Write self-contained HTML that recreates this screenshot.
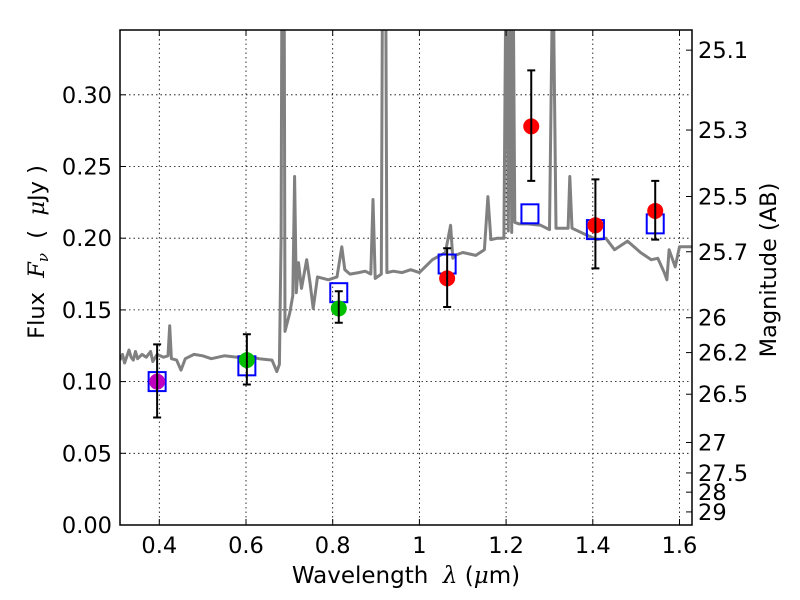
<!DOCTYPE html>
<html><head><meta charset="utf-8"><style>
body{margin:0;background:#fff;}
svg{display:block;font-family:"DejaVu Sans","Liberation Sans",sans-serif;}
text{white-space:pre;}
</style></head><body>
<svg id="chart" width="800" height="600" viewBox="0 0 800 600" xmlns="http://www.w3.org/2000/svg" xml:space="preserve">
<defs><clipPath id="clip"><rect x="120" y="30" width="572" height="495"/></clipPath></defs>
<rect x="0" y="0" width="800" height="600" fill="#fff"/>
<g id="grid"></g>
<g id="spec" clip-path="url(#clip)"></g>
<g id="marks" clip-path="url(#clip)"></g>
<rect x="120" y="30" width="572" height="495" fill="none" stroke="#000" stroke-width="1.5"/>
<g id="axes"></g>
<text x="406" y="583" font-size="23" text-anchor="middle">Wavelength  <tspan font-style="italic" font-family="DejaVu Serif,serif">λ</tspan> (<tspan font-style="italic" font-family="DejaVu Serif,serif">μ</tspan>m)</text>
<text transform="translate(44,252) rotate(-90)" font-size="22.5" text-anchor="middle">Flux  <tspan font-style="italic" font-family="DejaVu Serif,serif">F<tspan font-size="15" dy="4">ν</tspan></tspan><tspan dy="-4">  (  </tspan><tspan font-style="italic" font-family="DejaVu Serif,serif">μ</tspan>Jy )</text>
<text transform="translate(776,270) rotate(-90)" font-size="22.5" text-anchor="middle">Magnitude (AB)</text>
</svg>
<script>
const xTicks=[0.4,0.6,0.8,1.0,1.2,1.4,1.6];
const xTickLabels=["0.4","0.6","0.8","1","1.2","1.4","1.6"];
const yTicks=[0,0.05,0.10,0.15,0.20,0.25,0.30];
const yTickLabels=["0.00","0.05","0.10","0.15","0.20","0.25","0.30"];
const magTicks=[25.1,25.3,25.5,25.7,26,26.2,26.5,27,27.5,28,29];
const specWave=[0.309,0.315,0.32,0.33,0.335,0.34,0.345,0.35,0.36,0.37,0.38,0.385,0.395,0.41,0.42,0.424,0.428,0.44,0.45,0.46,0.48,0.50,0.52,0.55,0.58,0.60,0.63,0.66,0.671,0.677,0.681,0.683,0.688,0.690,0.701,0.708,0.712,0.716,0.721,0.728,0.740,0.748,0.755,0.765,0.79,0.81,0.821,0.828,0.84,0.86,0.875,0.888,0.893,0.898,0.912,0.915,0.922,0.925,0.94,0.96,0.98,1.0,1.03,1.06,1.072,1.077,1.082,1.10,1.13,1.15,1.158,1.165,1.18,1.195,1.20,1.205,1.21,1.213,1.216,1.22,1.23,1.25,1.28,1.30,1.308,1.315,1.33,1.343,1.347,1.352,1.38,1.41,1.43,1.45,1.48,1.51,1.535,1.55,1.565,1.571,1.576,1.59,1.60,1.63];
const specFlux=[0.115,0.119,0.113,0.122,0.117,0.115,0.121,0.116,0.119,0.117,0.121,0.114,0.119,0.117,0.118,0.139,0.116,0.115,0.108,0.116,0.119,0.118,0.116,0.118,0.117,0.118,0.116,0.115,0.107,0.112,0.20,0.40,0.40,0.135,0.148,0.16,0.243,0.162,0.183,0.165,0.185,0.168,0.151,0.173,0.171,0.173,0.194,0.178,0.175,0.176,0.177,0.175,0.227,0.172,0.175,0.40,0.40,0.176,0.177,0.176,0.178,0.176,0.185,0.190,0.209,0.186,0.188,0.190,0.188,0.192,0.229,0.199,0.200,0.200,0.40,0.205,0.40,0.204,0.40,0.211,0.210,0.210,0.209,0.206,0.40,0.207,0.207,0.207,0.243,0.207,0.203,0.199,0.200,0.192,0.198,0.190,0.185,0.186,0.176,0.171,0.192,0.180,0.194,0.194];
const photWave=[0.395,0.602,0.814,1.064,1.258,1.406,1.544];
const photFlux=[0.100,0.115,0.151,0.172,0.278,0.209,0.219];
const photLow=[0.075,0.098,0.141,0.152,0.240,0.179,0.199];
const photHigh=[0.126,0.133,0.163,0.193,0.317,0.241,0.240];
const photColors=["#bf00bf","#00bf00","#00bf00","#ff0000","#ff0000","#ff0000","#ff0000"];
const modelWave=[0.395,0.602,0.814,1.064,1.255,1.406,1.544];
const modelFlux=[0.100,0.111,0.162,0.182,0.217,0.206,0.210];

const X=w=>159.3+(w-0.4)*433.5;
const Y=v=>525-v*1434;
const NS="http://www.w3.org/2000/svg";
function mk(tag,attrs,parent){const e=document.createElementNS(NS,tag);for(const k in attrs)e.setAttribute(k,attrs[k]);parent.appendChild(e);return e;}
const grid=document.getElementById('grid'),axes=document.getElementById('axes'),spec=document.getElementById('spec'),marks=document.getElementById('marks');
xTicks.forEach((t,i)=>{const x=X(t);
 const g=mk('line',{x1:x,x2:x,y1:30,y2:525,stroke:'#000','stroke-width':0.8,'stroke-dasharray':'1.5,3'},grid);
 
 mk('line',{x1:x,x2:x,y1:525,y2:519,stroke:'#000'},axes);
 mk('line',{x1:x,x2:x,y1:30,y2:36,stroke:'#000'},axes);
 const tx=mk('text',{x:x,y:553,'font-size':22.5,'text-anchor':'middle'},axes);tx.textContent=xTickLabels[i];
 });
yTicks.forEach((t,i)=>{const y=Y(t);
 const g=mk('line',{x1:120,x2:692,y1:y,y2:y,stroke:'#000','stroke-width':0.8,'stroke-dasharray':'1.5,3'},grid);
 
 mk('line',{x1:120,x2:126,y1:y,y2:y,stroke:'#000'},axes);
 const tx=mk('text',{x:112,y:y+8,'font-size':22.5,'text-anchor':'end'},axes);tx.textContent=yTickLabels[i];
 });
magTicks.forEach(m=>{const y=Y(Math.pow(10,(23.9-m)/2.5));
 mk('line',{x1:686,x2:692,y1:y,y2:y,stroke:'#000'},axes);
 const tx=mk('text',{x:698,y:y+8,'font-size':22.5},axes);tx.textContent=String(m);
 });
const p=mk('polyline',{points:specWave.map((w,i)=>X(w).toFixed(1)+','+Y(specFlux[i]).toFixed(1)).join(' '),fill:'none',stroke:'#808080','stroke-width':3,'stroke-linejoin':'round'},spec);

modelWave.forEach((w,i)=>{const r=mk('rect',{x:X(w)-8.5,y:Y(modelFlux[i])-9.5,width:17,height:19,fill:'none',stroke:'#0000ff','stroke-width':2},marks);
 });
photWave.forEach((w,i)=>{const x=X(w);
 const c=mk('circle',{cx:x,cy:Y(photFlux[i]),r:8,fill:photColors[i]},marks);
 
 const e=mk('path',{d:`M${x},${Y(photLow[i])}V${Y(photHigh[i])}M${x-4},${Y(photLow[i])}h8M${x-4},${Y(photHigh[i])}h8`,stroke:'#000','stroke-width':2,fill:'none'},marks);
 });
</script>
</body></html>
